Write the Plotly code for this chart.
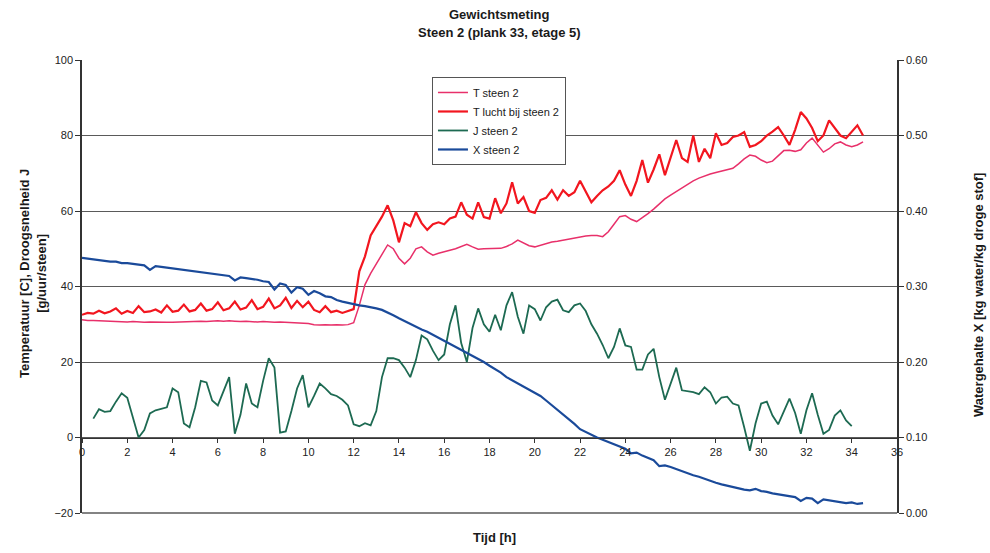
import plotly.graph_objects as go

# Sampling grid: every 15 minutes from 0 to 34.5 h
tijd = [i * 0.25 for i in range(139)]

# T steen 2 [C]  (8 samples per 2 h)
t_steen = [
    31.2, 31.0, 31.0, 30.9, 30.8, 30.9, 30.8, 30.7,
    30.6, 30.7, 30.6, 30.5, 30.6, 30.5, 30.6, 30.5,
    30.5, 30.6, 30.7, 30.6, 30.7, 30.8, 30.7, 30.8,
    30.9, 30.8, 30.9, 30.8, 30.7, 30.8, 30.7, 30.6,
    30.7, 30.6, 30.5, 30.6, 30.5, 30.6, 30.4, 30.3,
    30.2, 29.9, 29.8, 29.9, 29.8, 29.9, 29.8, 29.9,
    30.4, 35.0, 40.5, 43.5, 46.0, 48.8, 51.0, 50.0,
    47.5, 46.0, 47.5, 50.0, 50.5, 49.2, 48.3, 48.8,
    49.3, 49.6, 50.0, 50.6, 51.2, 50.5, 49.9, 50.0,
    50.0, 50.0, 50.1, 50.6, 51.3, 52.3, 51.5, 50.8,
    50.5, 51.0, 51.5, 51.8, 52.0, 52.3, 52.6, 53.0,
    53.2, 53.4, 53.5, 53.5, 53.2, 54.5, 56.5, 58.5,
    58.8, 57.8, 57.2, 58.2, 59.3, 60.5, 61.8, 63.2,
    64.2, 65.2, 66.2, 67.2, 68.0, 68.7, 69.3, 69.8,
    70.2, 70.6, 71.0, 71.3, 72.5, 73.8, 74.8, 74.5,
    73.5, 72.8, 73.2, 74.6, 76.0, 76.1, 75.8, 76.2,
    78.0, 79.3, 77.5, 75.6, 76.5, 77.8, 78.3, 77.5,
    77.0, 77.5, 78.3,
]

# T lucht bij steen 2 [C]
t_lucht = [
    32.5, 33.0, 32.8, 33.6, 32.9, 33.4, 34.2, 32.8,
    33.5, 33.0, 34.8, 33.2, 33.4, 33.9, 33.1, 35.0,
    33.3, 33.6, 35.2, 33.4, 33.8, 35.5, 33.6, 34.0,
    35.8, 33.7, 34.2, 36.0, 33.9, 34.4, 36.4, 34.0,
    34.6, 36.8, 34.2, 35.0, 37.0, 34.3, 36.2, 34.5,
    36.0, 33.8, 33.2, 34.8, 33.2, 33.6, 33.0, 33.4,
    34.0, 44.0, 48.0, 53.5, 56.0, 58.5, 61.5, 57.5,
    51.7, 56.8, 56.0, 59.7, 56.8, 55.0, 56.5, 57.0,
    56.5, 58.0, 58.5, 62.3, 59.0, 58.0, 62.3, 58.4,
    58.0, 63.4, 59.4, 62.0, 67.6, 62.0, 63.7, 60.0,
    59.5, 62.9, 63.5, 65.5, 63.0, 65.5, 64.0, 65.0,
    68.0, 65.0, 62.3, 64.0, 65.5, 66.5, 68.0, 70.8,
    67.0, 64.0, 68.0, 73.5, 67.5, 71.0, 75.0, 69.5,
    74.0, 78.8, 74.0, 73.0, 80.0, 73.0, 76.5, 74.0,
    80.6, 77.5, 78.0, 79.6, 80.0, 80.9, 77.0, 77.5,
    78.5, 80.0, 81.0, 82.2, 80.0, 77.5, 81.5, 86.2,
    84.5, 82.0, 78.5, 80.0, 84.0, 82.0, 80.0, 79.3,
    81.0, 82.7, 80.0,
]

# J steen 2 [g/uur/steen]
j_steen = [
    None, None, 5.0, 7.5, 6.8, 7.0, 9.5, 11.7,
    10.5, 5.0, 0.0, 2.0, 6.4, 7.2, 7.6, 8.0,
    13.0, 12.0, 3.7, 2.7, 8.0, 15.0, 14.6, 9.8,
    8.5, 12.0, 16.0, 1.0, 6.0, 14.3, 9.0, 8.0,
    15.0, 21.0, 18.5, 1.3, 1.6, 7.0, 13.0, 16.5,
    8.0, 11.0, 14.3, 13.0, 11.5, 11.0, 10.0, 8.5,
    3.5, 3.0, 3.8, 3.2, 7.0, 16.0, 21.0, 21.0,
    20.5, 18.5, 16.0, 20.5, 27.0, 26.0, 23.0, 20.5,
    22.0, 30.0, 35.0, 25.0, 20.0, 29.0, 34.2, 30.0,
    28.0, 32.5, 28.4, 35.0, 38.5, 32.0, 27.5, 35.0,
    34.0, 31.0, 34.5, 36.0, 36.5, 33.7, 33.2, 35.0,
    35.5, 33.5, 30.0, 27.5, 24.5, 21.0, 24.0, 28.9,
    24.4, 24.0, 18.0, 18.0, 22.0, 23.5, 16.0, 10.0,
    14.0, 18.5, 12.5, 12.3, 12.0, 11.5, 13.3, 12.0,
    9.0, 10.6, 10.8, 9.0, 8.5, 2.7, -3.5, 3.7,
    9.0, 9.5, 5.8, 3.5, 7.0, 10.3, 6.5, 1.0,
    7.2, 11.7, 6.0, 1.0, 2.0, 5.8, 7.2, 4.5,
    3.0, None, None,
]

# X steen 2 [kg water/kg droge stof]
x_steen = [
    0.338, 0.337, 0.336, 0.335, 0.334, 0.333, 0.333, 0.331,
    0.331, 0.330, 0.329, 0.328, 0.322, 0.327, 0.326, 0.325,
    0.324, 0.323, 0.322, 0.321, 0.320, 0.319, 0.318, 0.317,
    0.316, 0.315, 0.314, 0.308, 0.312, 0.311, 0.310, 0.309,
    0.307, 0.306, 0.296, 0.304, 0.302, 0.292, 0.299, 0.297,
    0.289, 0.294, 0.291, 0.287, 0.286, 0.282, 0.280, 0.278,
    0.276, 0.275, 0.274, 0.273, 0.271, 0.269, 0.266, 0.262,
    0.258, 0.254, 0.250, 0.246, 0.243, 0.240, 0.236, 0.232,
    0.228, 0.224, 0.220, 0.216, 0.213, 0.209, 0.205, 0.200,
    0.195, 0.191, 0.186, 0.180, 0.176, 0.172, 0.168, 0.164,
    0.160, 0.155, 0.149, 0.143, 0.137, 0.130, 0.124, 0.118,
    0.111, 0.107, 0.103, 0.100, 0.097, 0.094, 0.091, 0.088,
    0.085, 0.079, 0.080, 0.076, 0.073, 0.070, 0.062, 0.063,
    0.061, 0.058, 0.055, 0.052, 0.050, 0.048, 0.045, 0.043,
    0.040, 0.038, 0.036, 0.034, 0.033, 0.031, 0.030, 0.032,
    0.029, 0.028, 0.026, 0.025, 0.024, 0.023, 0.021, 0.016,
    0.020, 0.019, 0.013, 0.018, 0.017, 0.016, 0.015, 0.013,
    0.014, 0.012, 0.013,
]

x_ticks = list(range(0, 37, 2))
y_ticks = [-20, 0, 20, 40, 60, 80, 100]
y2_ticks = [0.0, 0.1, 0.2, 0.3, 0.4, 0.5, 0.6]

FONT = "Liberation Sans, Arial, sans-serif"
AXIS = "#333333"
TXT = "#1a1a1a"

fig = go.Figure()
fig.add_trace(go.Scatter(x=tijd, y=t_steen, name="T steen 2", mode="lines",
                         line=dict(color="#e8306a", width=1.5)))
fig.add_trace(go.Scatter(x=tijd, y=t_lucht, name="T lucht bij steen 2", mode="lines",
                         line=dict(color="#f2161f", width=2.2)))
fig.add_trace(go.Scatter(x=tijd, y=j_steen, name="J steen 2", mode="lines",
                         line=dict(color="#1d6a52", width=1.8), connectgaps=False))
fig.add_trace(go.Scatter(x=tijd, y=x_steen, name="X steen 2", mode="lines", yaxis="y2",
                         line=dict(color="#1a4a9a", width=2.2)))

fig.update_layout(
    width=990, height=553,
    margin=dict(l=82, r=93, t=60, b=40),
    paper_bgcolor="white", plot_bgcolor="white",
    font=dict(family=FONT, size=11, color="#222222"),
    showlegend=True,
    xaxis=dict(
        range=[0, 36], tickvals=x_ticks, ticktext=[str(v) for v in x_ticks],
        anchor="free", position=1 / 6,
        showgrid=False, zeroline=False,
        showline=True, linecolor=AXIS, linewidth=1.2,
        ticks="outside", ticklen=4, tickcolor=AXIS,
        tickfont=dict(size=11, color="#222222"),
    ),
    yaxis=dict(
        range=[-20, 100], tickvals=y_ticks,
        showgrid=True, gridcolor="#5a5a5a", gridwidth=1,
        zeroline=False, showline=True, linecolor=AXIS, linewidth=1.5,
        ticks="outside", ticklen=5, tickcolor=AXIS,
        tickfont=dict(size=11, color="#222222"),
    ),
    yaxis2=dict(
        range=[0, 0.6], tickvals=y2_ticks, tickformat=".2f",
        overlaying="y", side="right",
        showgrid=False, zeroline=False,
        showline=True, linecolor=AXIS, linewidth=1.5,
        ticks="outside", ticklen=5, tickcolor=AXIS,
        tickfont=dict(size=11, color="#222222"),
    ),
    legend=dict(
        x=0.4294, y=0.9625, xanchor="left", yanchor="top",
        bgcolor="white", bordercolor="#555555", borderwidth=1,
        font=dict(family=FONT, size=11, color=TXT),
        tracegroupgap=0,
    ),
)

# Bottom border of the plot area
fig.add_shape(type="line", xref="x domain", yref="y domain",
              x0=0, x1=1, y0=0, y1=0, line=dict(color="#5a5a5a", width=1.5))

# Two-line chart title
fig.add_annotation(text="<b>Gewichtsmeting</b>", xref="paper", yref="paper",
                   x=(499 - 82) / 815, y=(513 - 15) / 453,
                   xanchor="center", yanchor="middle", showarrow=False,
                   font=dict(family=FONT, size=13, color=TXT))
fig.add_annotation(text="<b>Steen 2 (plank 33, etage 5)</b>", xref="paper", yref="paper",
                   x=(499 - 82) / 815, y=(513 - 33) / 453,
                   xanchor="center", yanchor="middle", showarrow=False,
                   font=dict(family=FONT, size=13, color=TXT))

# Axis titles
fig.add_annotation(
    text="<b>Temperatuur [C], Droogsnelheid J</b><br><b>[g/uur/steen]</b>",
    xref="paper", yref="paper", x=-0.0601, y=0.5276,
    xanchor="center", yanchor="middle", textangle=-90, showarrow=False,
    font=dict(family=FONT, size=13, color=TXT),
)
fig.add_annotation(
    text="<b>Watergehalte X [kg water/kg droge stof]</b>",
    xref="paper", yref="paper", x=(978 - 82) / 815, y=(513 - 295) / 453,
    xanchor="center", yanchor="middle", textangle=-90, showarrow=False,
    font=dict(family=FONT, size=13, color=TXT),
)
fig.add_annotation(
    text="<b>Tijd [h]</b>",
    xref="paper", yref="paper", x=(495 - 82) / 815, y=(513 - 537) / 453,
    xanchor="center", yanchor="middle", showarrow=False,
    font=dict(family=FONT, size=13, color=TXT),
)

fig.write_html("out.html")
